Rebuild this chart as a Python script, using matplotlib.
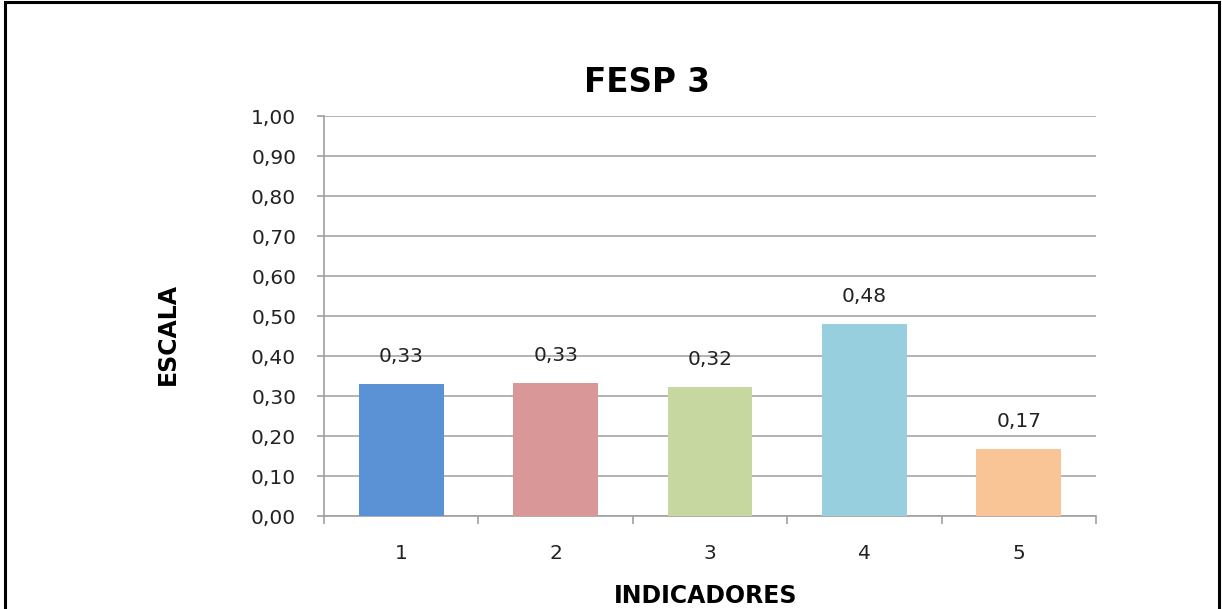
import matplotlib
matplotlib.use("Agg")
import matplotlib.pyplot as plt
from matplotlib.patches import Rectangle

categories = ["1", "2", "3", "4", "5"]
values = [0.33, 0.333, 0.323, 0.48, 0.168]
value_labels = ["0,33", "0,33", "0,32", "0,48", "0,17"]
colors = ["#5B92D5", "#D99897", "#C6D8A0", "#98CFDF", "#F9C597"]
yticks = [0.0, 0.1, 0.2, 0.3, 0.4, 0.5, 0.6, 0.7, 0.8, 0.9, 1.0]
ytick_labels = ["0,00", "0,10", "0,20", "0,30", "0,40", "0,50", "0,60", "0,70", "0,80", "0,90", "1,00"]
title = "FESP 3"
xlabel = "INDICADORES"
ylabel = "ESCALA"

plt.rcParams['font.family'] = ['DejaVu Sans']

fig = plt.figure(figsize=(12.22, 6.09), dpi=100)
ax = fig.add_axes([324/1222, (609-516)/609, (1096-324)/1222, 400/609])

x = list(range(len(categories)))
ax.bar(x, values, width=0.55, color=colors, zorder=3)
for xi, v, lab in zip(x, values, value_labels):
    ax.annotate(lab, (xi, v), xytext=(0, 19.5), textcoords="offset points",
                ha="center", va="center", fontsize=14.5, color="#222222")

ax.set_xlim(-0.5, len(categories) - 0.5)
ax.set_ylim(0, 1.0)
ax.set_yticks(yticks)
ax.set_yticklabels(ytick_labels, fontsize=14.5, color="#222222")
ax.set_xticks(x)
ax.set_xticklabels(categories, fontsize=14.5, color="#222222")
ax.set_xticks([i - 0.5 for i in range(len(categories) + 1)], minor=True)
ax.tick_params(axis="x", which="major", length=0, pad=20)
ax.tick_params(axis="x", which="minor", length=6, color="#A0A0A0", width=1.2)
ax.tick_params(axis="y", length=5, color="#A0A0A0", width=1.2, pad=15)

ax.yaxis.grid(True, color="#A6A6A6", linewidth=1.2, zorder=0)
for s in ["top", "right"]:
    ax.spines[s].set_visible(False)
for s in ["left", "bottom"]:
    ax.spines[s].set_color("#A0A0A0")
    ax.spines[s].set_linewidth(1.2)

fig.text(647/1222, 1 - 82/609, title, ha="center", va="center",
         fontsize=23.5, fontweight="bold", color="black")
fig.text(706/1222, 1 - 596/609, xlabel, ha="center", va="center",
         fontsize=17, fontweight="bold", color="black")
fig.text(168/1222, 1 - 334/609, ylabel, ha="center", va="center", rotation=90,
         fontsize=17, fontweight="bold", color="black")

fig.patches.append(Rectangle((5/1222, -0.05), (1219-5)/1222, 1.05 - 2/609,
                             transform=fig.transFigure, fill=False,
                             edgecolor="black", linewidth=2.2))

fig.savefig("out.png", dpi=100)
